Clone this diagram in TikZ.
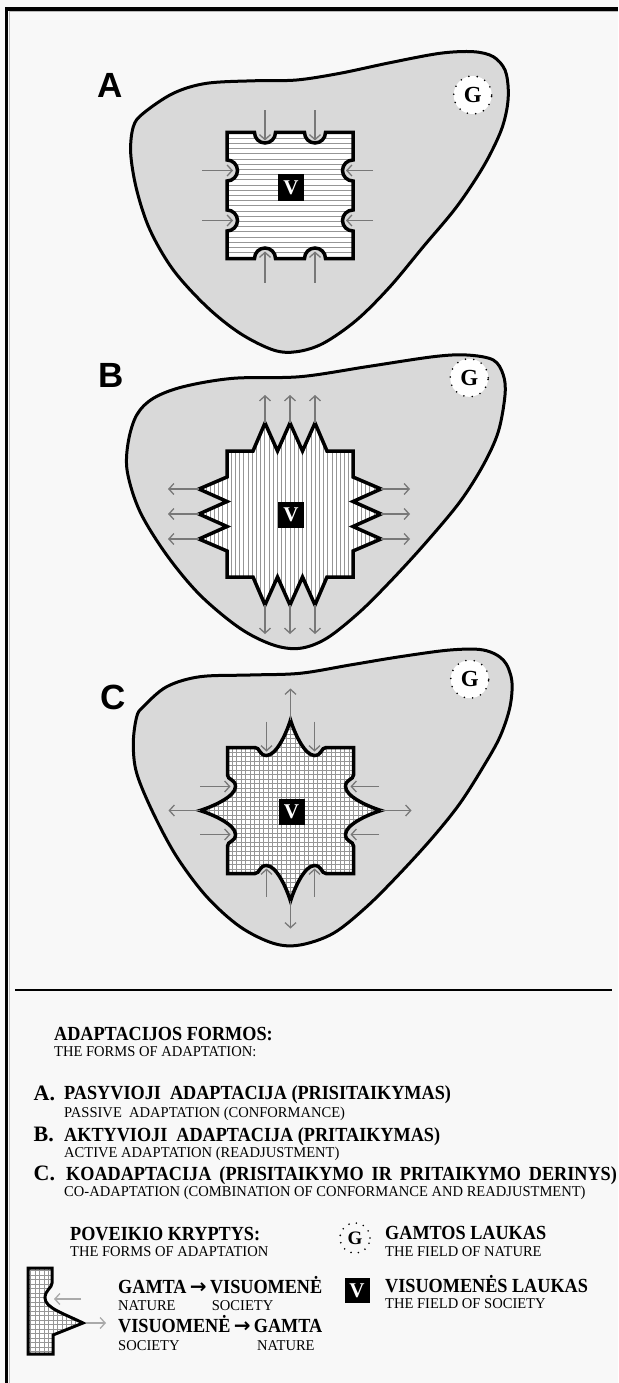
\documentclass[tikz,border=0pt]{standalone}
\usepackage{fontspec}
\setmainfont{Liberation Serif}
\newfontfamily\lsans{Liberation Sans}
\newfontfamily\condA[FakeStretch=0.91]{Liberation Serif}
\newfontfamily\condB[FakeStretch=0.97]{Liberation Serif}
\newfontfamily\dejavu{DejaVu Sans}
\usetikzlibrary{arrows.meta}
\definecolor{bgc}{RGB}{248,248,248}
\definecolor{blobc}{RGB}{217,217,217}
\definecolor{arrc}{RGB}{120,120,120}
\definecolor{legarr}{RGB}{170,170,170}
\definecolor{stripec}{RGB}{150,150,150}
\tikzset{
 blob/.style={draw=black, line width=3pt, fill=blobc},
 innerline/.style={draw=black, line width=3.5pt, line join=miter},
 flow/.style={draw=arrc, line width=1.3pt, -{Straight Barb[length=5pt,width=11pt]}},
 vbox/.style={fill=black, text=white, minimum size=26pt, inner sep=0pt, font=\fontsize{21}{21}\selectfont\bfseries},
 gcirc/.style={circle, fill=white, draw=black, line width=1.8pt, dash pattern=on 0pt off 8.4pt, line cap=round, minimum size=38pt, inner sep=0pt, font=\fontsize{23}{23}\selectfont\bfseries},
 panellabel/.style={font=\lsans\fontsize{35}{35}\selectfont\bfseries, inner sep=0pt},
 boldline/.style={anchor=base west, inner sep=0pt, font=\condA\fontsize{20}{24}\selectfont\bfseries},
 smallline/.style={anchor=base west, inner sep=0pt, font=\condB\fontsize{15}{18}\selectfont},
 letter/.style={anchor=base west, inner sep=0pt, font=\fontsize{22}{22}\selectfont\bfseries},
 stripe/.style={draw=stripec, line width=0.9pt},
}
\def\shapeA{(-63,-63) -- (-35.5,-63) arc[start angle=180,end angle=0,radius=10.5pt]
 -- (14.5,-63) arc[start angle=180,end angle=0,radius=10.5pt] -- (63,-63)
 -- (63,-35.5) arc[start angle=270,end angle=90,radius=10.5pt]
 -- (63,14.5) arc[start angle=270,end angle=90,radius=10.5pt] -- (63,63)
 -- (35.5,63) arc[start angle=360,end angle=180,radius=10.5pt]
 -- (-14.5,63) arc[start angle=360,end angle=180,radius=10.5pt] -- (-63,63)
 -- (-63,35.5) arc[start angle=90,end angle=-90,radius=10.5pt]
 -- (-63,-14.5) arc[start angle=90,end angle=-90,radius=10.5pt] -- cycle}
\def\shapeB{(-63,-63) -- (-37,-63) -- (-25,-91) -- (-12.5,-63) -- (0,-91) -- (12.5,-63) -- (25,-91) -- (37,-63) -- (63,-63)
 -- (63,-37) -- (91,-25) -- (63,-12.5) -- (91,0) -- (63,12.5) -- (91,25) -- (63,37) -- (63,63)
 -- (37,63) -- (25,91) -- (12.5,63) -- (0,91) -- (-12.5,63) -- (-25,91) -- (-37,63) -- (-63,63)
 -- (-63,37) -- (-91,25) -- (-63,12.5) -- (-91,0) -- (-63,-12.5) -- (-91,-25) -- (-63,-37) -- cycle}
\def\shapeC{(-63,-63) -- (-35.5,-63) .. controls (-30.5,-63) and (-31.5,-55) .. (-24,-55)
 .. controls (-14.5,-55) and (-4.5,-76) .. (0,-90.5) .. controls (4.5,-76) and (14.5,-55) .. (24,-55)
 .. controls (31.5,-55) and (30.5,-63) .. (35.5,-63) -- (63,-63)
 -- (63,-35.5) .. controls (63,-30.5) and (55,-31.5) .. (55,-24)
 .. controls (55,-14.5) and (76,-4.5) .. (90.5,0) .. controls (76,4.5) and (55,14.5) .. (55,24)
 .. controls (55,31.5) and (63,30.5) .. (63,35.5) -- (63,63)
 -- (35.5,63) .. controls (30.5,63) and (31.5,55) .. (24,55)
 .. controls (14.5,55) and (4.5,76) .. (0,90.5) .. controls (-4.5,76) and (-14.5,55) .. (-24,55)
 .. controls (-31.5,55) and (-30.5,63) .. (-35.5,63) -- (-63,63)
 -- (-63,35.5) .. controls (-63,30.5) and (-55,31.5) .. (-55,24)
 .. controls (-55,14.5) and (-76,4.5) .. (-90.5,0) .. controls (-76,-4.5) and (-55,-14.5) .. (-55,-24)
 .. controls (-55,-31.5) and (-63,-30.5) .. (-63,-35.5) -- cycle}
\def\glyph{(28,1268) -- (52,1268) -- (52,1283) .. controls (52,1288) and (45,1290) .. (45,1298)
 .. controls (45,1308) and (65,1314) .. (83,1323) -- (53,1335) -- (53,1354) -- (28,1354) -- cycle}
\begin{document}
\begin{tikzpicture}[x=1pt,y=1pt,yscale=-1]
\useasboundingbox (0,0) rectangle (618,1383);
\fill[bgc] (0,0) rectangle (618,1383);
% frame
\draw[gray!55, line width=1pt] (9.3,1383) -- (9.3,11.6) -- (618,11.6);
\draw[black, line width=3.4pt] (6.6,1383) -- (6.6,9) -- (618,9);

% ---------- Panel A ----------
\draw[blob] plot[smooth cycle, tension=0.55] coordinates {(133.3,126.7) (143.3,113.3) (173.3,93.3) (206.7,83.3) (256.7,80.7) (296.7,80) (340,73.3) (390,62.7) (440,53.3) (473.3,51.7) (493.3,56.7) (505,70) (508.3,90) (506.7,110) (500,133.3) (483.3,166.7) (456.7,206.7) (423.3,246.7) (390,286.7) (356.7,320) (323.3,343.3) (296.7,351.7) (273.3,350) (240,333.3) (206.7,306.7) (173.3,270) (150,230) (136.7,190) (130.7,153.3)};
\node[panellabel] (labA) at (109.8,85.8) {A};
\node[gcirc] (gA) at (472.7,95) {G};
\begin{scope}[shift={(290,195.5)}]
 \fill[white] \shapeA;
 \begin{scope}
  \clip \shapeA;
  \foreach \k in {-14,...,14} \draw[stripe] (-100,\k*5.2) -- (100,\k*5.2);
 \end{scope}
 \draw[innerline] \shapeA;
 \draw[flow] (-25,-85) -- (-25,-55);
 \draw[flow] (25,-85) -- (25,-55);
 \draw[flow] (-25,87) -- (-25,56);
 \draw[flow] (25,87) -- (25,56);
 \draw[flow] (-88,-25) -- (-57,-25);
 \draw[flow] (-88,25) -- (-57,25);
 \draw[flow] (83,-25) -- (56,-25);
 \draw[flow] (83,25) -- (56,25);
\end{scope}
\node[vbox] (vA) at (291,187.5) {V};

% ---------- Panel B ----------
\draw[blob] plot[smooth cycle, tension=0.55] coordinates {(127.3,471.7) (128.3,441.7) (136.7,415) (153.3,398.3) (183.3,386.7) (233.3,378.3) (300,376.7) (366.7,366.7) (433.3,356.7) (466.7,355) (493.3,360) (503.3,375) (505,395) (498.3,431.7) (483.3,465) (460,501.7) (426.7,541.7) (393.3,578.3) (360,611.7) (326.7,638.3) (300,648.3) (273.3,645) (240,628.3) (200,595) (166.7,555) (140,511.7)};
\node[panellabel] (labB) at (111.3,375.5) {B};
\node[gcirc] (gB) at (469.2,377.8) {G};
\begin{scope}[shift={(290,514)}]
 \fill[white] \shapeB;
 \begin{scope}
  \clip \shapeB;
  \foreach \k in {-23,...,23} \draw[stripe] (\k*4.2,-100) -- (\k*4.2,100);
 \end{scope}
 \draw[innerline] \shapeB;
 \foreach \u in {-25,0,25} {
  \draw[flow] (\u,-91) -- (\u,-119);
  \draw[flow] (\u,91) -- (\u,120);
  \draw[flow] (-91,\u) -- (-122,\u);
  \draw[flow] (91,\u) -- (120,\u);
 }
\end{scope}
\node[vbox] (vB) at (291,514.7) {V};

% ---------- Panel C ----------
\draw[blob] plot[smooth cycle, tension=0.55] coordinates {(136.7,716.7) (143.3,706.7) (166.7,686.7) (200,676.7) (250,675) (300,673.3) (350,665) (400,656.7) (450,650) (483.3,650) (503.3,660) (511.7,680) (510,706.7) (500,736.7) (483.3,766.7) (460,803.3) (433.3,836.7) (400,873.3) (366.7,906.7) (333.3,933.3) (300,945) (273.3,943.3) (240,926.7) (206.7,896.7) (176.7,856.7) (153.3,813.3) (136.7,773.3) (133.3,743.3)};
\node[panellabel] (labC) at (112.8,697) {C};
\node[gcirc] (gC) at (469.7,679.2) {G};
\begin{scope}[shift={(290.5,810.5)}]
 \fill[white] \shapeC;
 \begin{scope}
  \clip \shapeC;
  \foreach \k in {-21,...,21} {
   \draw[stripe] (\k*4.5,-100) -- (\k*4.5,100);
   \draw[stripe] (-100,\k*4.5) -- (100,\k*4.5);
  }
 \end{scope}
 \draw[innerline] \shapeC;
 \draw[flow] (0,-90.5) -- (0,-122);
 \draw[flow] (0,90.5) -- (0,118);
 \draw[flow] (-90.5,0) -- (-122,0);
 \draw[flow] (90.5,0) -- (121,0);
 \draw[flow] (-24,-89) -- (-24,-59);
 \draw[flow] (24,-89) -- (24,-59);
 \draw[flow] (-24,86) -- (-24,58);
 \draw[flow] (24,86) -- (24,58);
 \draw[flow] (-90.5,-24) -- (-60,-24);
 \draw[flow] (-90.5,24) -- (-60,24);
 \draw[flow] (88.5,-24) -- (60,-24);
 \draw[flow] (88.5,24) -- (60,24);
\end{scope}
\node[vbox] (vC) at (291.5,812) {V};

% ---------- Legend ----------
\draw[black, line width=2pt] (15,990) -- (612,990);
\node[boldline] (hd) at (54,1040) {ADAPTACIJOS FORMOS:};
\node[smallline] (hde) at (54,1056) {THE FORMS OF ADAPTATION:};
\node[letter] (la) at (33.5,1100) {A.};
\node[boldline] (ta) at (64,1099.3) {PASYVIOJI\ \ ADAPTACIJA (PRISITAIKYMAS)};
\node[smallline] (tae) at (64,1117.7) {PASSIVE\ \ ADAPTATION (CONFORMANCE)};
\node[letter] (lb) at (33.5,1141.5) {B.};
\node[boldline] (tb) at (64,1141) {AKTYVIOJI\ \ ADAPTACIJA (PRITAIKYMAS)};
\node[smallline] (tbe) at (64,1157.7) {ACTIVE ADAPTATION (READJUSTMENT)};
\node[letter] (lc) at (33.5,1180.5) {C.};
\node[boldline] (tc) at (66,1180) {KOADAPTACIJA\hspace{0.4em}(PRISITAIKYMO\hspace{0.4em}IR\hspace{0.4em}PRITAIKYMO\hspace{0.4em}DERINYS)};
\node[smallline] (tce) at (64,1196.7) {CO-ADAPTATION (COMBINATION OF CONFORMANCE AND READJUSTMENT)};

\node[boldline] (pk) at (70,1240) {POVEIKIO KRYPTYS:};
\node[smallline] (pke) at (70,1256.7) {THE FORMS OF ADAPTATION};
\node[gcirc, minimum size=30pt, font=\fontsize{19}{19}\selectfont\bfseries, dash pattern=on 0pt off 7.4pt, fill=bgc] (gL) at (355,1238) {G};
\node[boldline] (gl) at (385,1239.3) {GAMTOS LAUKAS};
\node[smallline] (gle) at (385,1256.7) {THE FIELD OF NATURE};
\node[vbox, minimum size=25pt] (vL) at (357,1290.5) {V};
\node[boldline] (vl) at (385,1292.3) {VISUOMENĖS LAUKAS};
\node[smallline] (vle) at (385,1308) {THE FIELD OF SOCIETY};

\fill[white] \glyph;
\begin{scope}
 \clip \glyph;
 \foreach \k in {0,...,20} {
  \draw[stripe] (26+\k*4.5,1260) -- (26+\k*4.5,1360);
  \draw[stripe] (20,1266+\k*4.5) -- (90,1266+\k*4.5);
 }
\end{scope}
\draw[innerline, line width=3pt] \glyph;
\draw[flow, draw=legarr] (81,1299) -- (54,1299);
\draw[flow, draw=legarr] (86,1323) -- (106,1323);
\node[boldline] (d1) at (118,1293.3) {GAMTA\,{\dejavu →}\,VISUOMENĖ};
\node[smallline] (d1n) at (118,1310) {NATURE};
\node[smallline] (d1s) at (211.7,1310) {SOCIETY};
\node[boldline] (d2) at (118,1332.6) {VISUOMENĖ\,{\dejavu →}\,GAMTA};
\node[smallline] (d2s) at (118,1350) {SOCIETY};
\node[smallline] (d2n) at (257,1350) {NATURE};
\end{tikzpicture}
\end{document}
